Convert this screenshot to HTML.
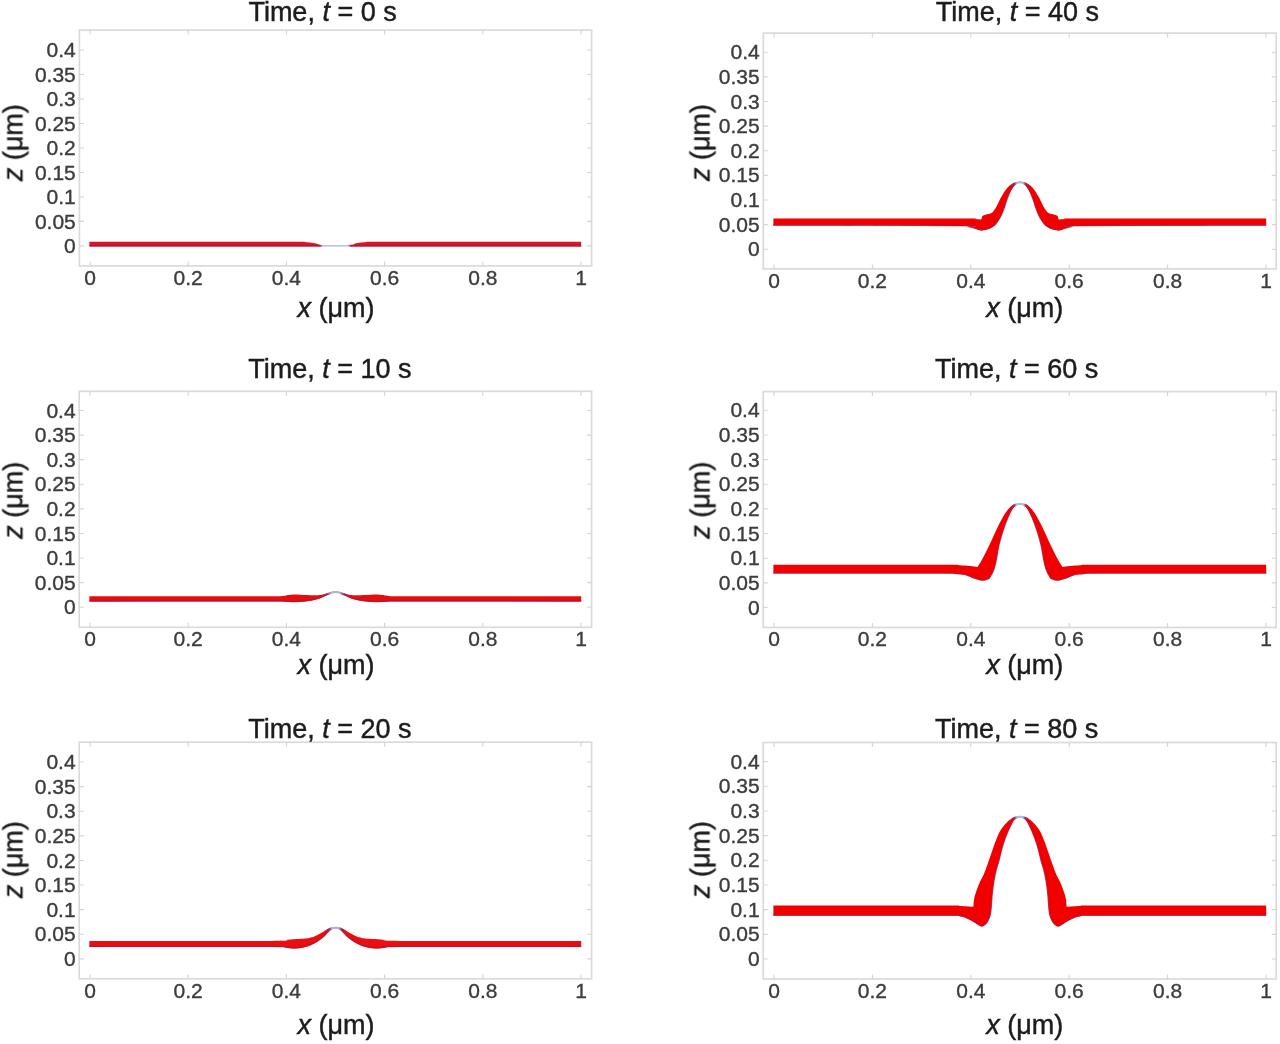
<!DOCTYPE html>
<html><head><meta charset="utf-8"><title>Film evolution</title>
<style>
html,body{margin:0;padding:0;background:#fff;}
body{width:1280px;height:1044px;overflow:hidden;}
svg{display:block;font-family:"Liberation Sans", sans-serif;}
</style></head><body>
<svg width="1280" height="1044" viewBox="0 0 1280 1044">
<defs><filter id="bl" x="-5%" y="-30%" width="110%" height="160%"><feGaussianBlur stdDeviation="0.6"/></filter><filter id="tb" x="-10%" y="-10%" width="120%" height="120%"><feGaussianBlur stdDeviation="0.35"/></filter><filter id="tb2" x="-10%" y="-10%" width="120%" height="120%"><feGaussianBlur stdDeviation="0.45"/></filter></defs>
<rect x="0" y="0" width="1280" height="1044" fill="#fff"/>
<rect x="79.4" y="30.1" width="512.2" height="235.8" fill="none" stroke="#dadada" stroke-width="1.7"/>
<path d="M90 265.9v-4.5M90 30.1v4.5M188.2 265.9v-4.5M188.2 30.1v4.5M286.4 265.9v-4.5M286.4 30.1v4.5M384.6 265.9v-4.5M384.6 30.1v4.5M482.8 265.9v-4.5M482.8 30.1v4.5M581 265.9v-4.5M581 30.1v4.5M79.4 245.9h4.5M591.6 245.9h-4.5M79.4 221.41h4.5M591.6 221.41h-4.5M79.4 196.93h4.5M591.6 196.93h-4.5M79.4 172.44h4.5M591.6 172.44h-4.5M79.4 147.95h4.5M591.6 147.95h-4.5M79.4 123.46h4.5M591.6 123.46h-4.5M79.4 98.97h4.5M591.6 98.97h-4.5M79.4 74.49h4.5M591.6 74.49h-4.5M79.4 50h4.5M591.6 50h-4.5" stroke="#d3d3d3" stroke-width="1.1" fill="none"/>
<g font-size="20" fill="#3c3c3c" stroke="#3c3c3c" stroke-width="0.35" filter="url(#tb)"><text x="90" y="284.8" text-anchor="middle" textLength="11.68" lengthAdjust="spacingAndGlyphs">0</text><text x="188.2" y="284.8" text-anchor="middle" textLength="29.19" lengthAdjust="spacingAndGlyphs">0.2</text><text x="286.4" y="284.8" text-anchor="middle" textLength="29.19" lengthAdjust="spacingAndGlyphs">0.4</text><text x="384.6" y="284.8" text-anchor="middle" textLength="29.19" lengthAdjust="spacingAndGlyphs">0.6</text><text x="482.8" y="284.8" text-anchor="middle" textLength="29.19" lengthAdjust="spacingAndGlyphs">0.8</text><text x="581" y="284.8" text-anchor="middle" textLength="11.68" lengthAdjust="spacingAndGlyphs">1</text><text x="75.8" y="253" text-anchor="end" textLength="11.68" lengthAdjust="spacingAndGlyphs">0</text><text x="75.8" y="228.51" text-anchor="end" textLength="40.87" lengthAdjust="spacingAndGlyphs">0.05</text><text x="75.8" y="204.03" text-anchor="end" textLength="29.19" lengthAdjust="spacingAndGlyphs">0.1</text><text x="75.8" y="179.54" text-anchor="end" textLength="40.87" lengthAdjust="spacingAndGlyphs">0.15</text><text x="75.8" y="155.05" text-anchor="end" textLength="29.19" lengthAdjust="spacingAndGlyphs">0.2</text><text x="75.8" y="130.56" text-anchor="end" textLength="40.87" lengthAdjust="spacingAndGlyphs">0.25</text><text x="75.8" y="106.07" text-anchor="end" textLength="29.19" lengthAdjust="spacingAndGlyphs">0.3</text><text x="75.8" y="81.59" text-anchor="end" textLength="40.87" lengthAdjust="spacingAndGlyphs">0.35</text><text x="75.8" y="57.1" text-anchor="end" textLength="29.19" lengthAdjust="spacingAndGlyphs">0.4</text></g>
<g font-size="27" fill="#1c1c1c" stroke="#1c1c1c" stroke-width="0.45" filter="url(#tb2)"><text x="248.4" y="21">Time, <tspan font-style="italic">t</tspan> = 0 s</text><text x="297.5" y="317.2"><tspan font-style="italic">x</tspan> (μm)</text><text transform="translate(22.4 181.2) rotate(-90)" x="0" y="0"><tspan font-style="italic">z</tspan> (μm)</text></g>
<rect x="79.2" y="391.3" width="512.4" height="236" fill="none" stroke="#dadada" stroke-width="1.7"/>
<path d="M90 627.3v-4.5M90 391.3v4.5M188.2 627.3v-4.5M188.2 391.3v4.5M286.4 627.3v-4.5M286.4 391.3v4.5M384.6 627.3v-4.5M384.6 391.3v4.5M482.8 627.3v-4.5M482.8 391.3v4.5M581 627.3v-4.5M581 391.3v4.5M79.2 607.2h4.5M591.6 607.2h-4.5M79.2 582.61h4.5M591.6 582.61h-4.5M79.2 558.03h4.5M591.6 558.03h-4.5M79.2 533.44h4.5M591.6 533.44h-4.5M79.2 508.85h4.5M591.6 508.85h-4.5M79.2 484.26h4.5M591.6 484.26h-4.5M79.2 459.67h4.5M591.6 459.67h-4.5M79.2 435.09h4.5M591.6 435.09h-4.5M79.2 410.5h4.5M591.6 410.5h-4.5" stroke="#d3d3d3" stroke-width="1.1" fill="none"/>
<g font-size="20" fill="#3c3c3c" stroke="#3c3c3c" stroke-width="0.35" filter="url(#tb)"><text x="90" y="646.2" text-anchor="middle" textLength="11.68" lengthAdjust="spacingAndGlyphs">0</text><text x="188.2" y="646.2" text-anchor="middle" textLength="29.19" lengthAdjust="spacingAndGlyphs">0.2</text><text x="286.4" y="646.2" text-anchor="middle" textLength="29.19" lengthAdjust="spacingAndGlyphs">0.4</text><text x="384.6" y="646.2" text-anchor="middle" textLength="29.19" lengthAdjust="spacingAndGlyphs">0.6</text><text x="482.8" y="646.2" text-anchor="middle" textLength="29.19" lengthAdjust="spacingAndGlyphs">0.8</text><text x="581" y="646.2" text-anchor="middle" textLength="11.68" lengthAdjust="spacingAndGlyphs">1</text><text x="75.6" y="614.3" text-anchor="end" textLength="11.68" lengthAdjust="spacingAndGlyphs">0</text><text x="75.6" y="589.71" text-anchor="end" textLength="40.87" lengthAdjust="spacingAndGlyphs">0.05</text><text x="75.6" y="565.13" text-anchor="end" textLength="29.19" lengthAdjust="spacingAndGlyphs">0.1</text><text x="75.6" y="540.54" text-anchor="end" textLength="40.87" lengthAdjust="spacingAndGlyphs">0.15</text><text x="75.6" y="515.95" text-anchor="end" textLength="29.19" lengthAdjust="spacingAndGlyphs">0.2</text><text x="75.6" y="491.36" text-anchor="end" textLength="40.87" lengthAdjust="spacingAndGlyphs">0.25</text><text x="75.6" y="466.77" text-anchor="end" textLength="29.19" lengthAdjust="spacingAndGlyphs">0.3</text><text x="75.6" y="442.19" text-anchor="end" textLength="40.87" lengthAdjust="spacingAndGlyphs">0.35</text><text x="75.6" y="417.6" text-anchor="end" textLength="29.19" lengthAdjust="spacingAndGlyphs">0.4</text></g>
<g font-size="27" fill="#1c1c1c" stroke="#1c1c1c" stroke-width="0.45" filter="url(#tb2)"><text x="248.2" y="378.1">Time, <tspan font-style="italic">t</tspan> = 10 s</text><text x="297.5" y="674.4"><tspan font-style="italic">x</tspan> (μm)</text><text transform="translate(22.4 538.8) rotate(-90)" x="0" y="0"><tspan font-style="italic">z</tspan> (μm)</text></g>
<rect x="79.2" y="742.2" width="512.4" height="236.6" fill="none" stroke="#dadada" stroke-width="1.7"/>
<path d="M90 978.8v-4.5M90 742.2v4.5M188.2 978.8v-4.5M188.2 742.2v4.5M286.4 978.8v-4.5M286.4 742.2v4.5M384.6 978.8v-4.5M384.6 742.2v4.5M482.8 978.8v-4.5M482.8 742.2v4.5M581 978.8v-4.5M581 742.2v4.5M79.2 958.9h4.5M591.6 958.9h-4.5M79.2 934.29h4.5M591.6 934.29h-4.5M79.2 909.67h4.5M591.6 909.67h-4.5M79.2 885.06h4.5M591.6 885.06h-4.5M79.2 860.45h4.5M591.6 860.45h-4.5M79.2 835.84h4.5M591.6 835.84h-4.5M79.2 811.22h4.5M591.6 811.22h-4.5M79.2 786.61h4.5M591.6 786.61h-4.5M79.2 762h4.5M591.6 762h-4.5" stroke="#d3d3d3" stroke-width="1.1" fill="none"/>
<g font-size="20" fill="#3c3c3c" stroke="#3c3c3c" stroke-width="0.35" filter="url(#tb)"><text x="90" y="997.7" text-anchor="middle" textLength="11.68" lengthAdjust="spacingAndGlyphs">0</text><text x="188.2" y="997.7" text-anchor="middle" textLength="29.19" lengthAdjust="spacingAndGlyphs">0.2</text><text x="286.4" y="997.7" text-anchor="middle" textLength="29.19" lengthAdjust="spacingAndGlyphs">0.4</text><text x="384.6" y="997.7" text-anchor="middle" textLength="29.19" lengthAdjust="spacingAndGlyphs">0.6</text><text x="482.8" y="997.7" text-anchor="middle" textLength="29.19" lengthAdjust="spacingAndGlyphs">0.8</text><text x="581" y="997.7" text-anchor="middle" textLength="11.68" lengthAdjust="spacingAndGlyphs">1</text><text x="75.6" y="966" text-anchor="end" textLength="11.68" lengthAdjust="spacingAndGlyphs">0</text><text x="75.6" y="941.39" text-anchor="end" textLength="40.87" lengthAdjust="spacingAndGlyphs">0.05</text><text x="75.6" y="916.77" text-anchor="end" textLength="29.19" lengthAdjust="spacingAndGlyphs">0.1</text><text x="75.6" y="892.16" text-anchor="end" textLength="40.87" lengthAdjust="spacingAndGlyphs">0.15</text><text x="75.6" y="867.55" text-anchor="end" textLength="29.19" lengthAdjust="spacingAndGlyphs">0.2</text><text x="75.6" y="842.94" text-anchor="end" textLength="40.87" lengthAdjust="spacingAndGlyphs">0.25</text><text x="75.6" y="818.32" text-anchor="end" textLength="29.19" lengthAdjust="spacingAndGlyphs">0.3</text><text x="75.6" y="793.71" text-anchor="end" textLength="40.87" lengthAdjust="spacingAndGlyphs">0.35</text><text x="75.6" y="769.1" text-anchor="end" textLength="29.19" lengthAdjust="spacingAndGlyphs">0.4</text></g>
<g font-size="27" fill="#1c1c1c" stroke="#1c1c1c" stroke-width="0.45" filter="url(#tb2)"><text x="248.2" y="737.8">Time, <tspan font-style="italic">t</tspan> = 20 s</text><text x="297.5" y="1034.3"><tspan font-style="italic">x</tspan> (μm)</text><text transform="translate(22.4 898.2) rotate(-90)" x="0" y="0"><tspan font-style="italic">z</tspan> (μm)</text></g>
<rect x="763.3" y="33.1" width="512.9" height="235.8" fill="none" stroke="#dadada" stroke-width="1.7"/>
<path d="M774 268.9v-4.5M774 33.1v4.5M872.4 268.9v-4.5M872.4 33.1v4.5M970.8 268.9v-4.5M970.8 33.1v4.5M1069.2 268.9v-4.5M1069.2 33.1v4.5M1167.6 268.9v-4.5M1167.6 33.1v4.5M1266 268.9v-4.5M1266 33.1v4.5M763.3 249.2h4.5M1276.2 249.2h-4.5M763.3 224.59h4.5M1276.2 224.59h-4.5M763.3 199.97h4.5M1276.2 199.97h-4.5M763.3 175.36h4.5M1276.2 175.36h-4.5M763.3 150.75h4.5M1276.2 150.75h-4.5M763.3 126.14h4.5M1276.2 126.14h-4.5M763.3 101.52h4.5M1276.2 101.52h-4.5M763.3 76.91h4.5M1276.2 76.91h-4.5M763.3 52.3h4.5M1276.2 52.3h-4.5" stroke="#d3d3d3" stroke-width="1.1" fill="none"/>
<g font-size="20" fill="#3c3c3c" stroke="#3c3c3c" stroke-width="0.35" filter="url(#tb)"><text x="774" y="287.8" text-anchor="middle" textLength="11.68" lengthAdjust="spacingAndGlyphs">0</text><text x="872.4" y="287.8" text-anchor="middle" textLength="29.19" lengthAdjust="spacingAndGlyphs">0.2</text><text x="970.8" y="287.8" text-anchor="middle" textLength="29.19" lengthAdjust="spacingAndGlyphs">0.4</text><text x="1069.2" y="287.8" text-anchor="middle" textLength="29.19" lengthAdjust="spacingAndGlyphs">0.6</text><text x="1167.6" y="287.8" text-anchor="middle" textLength="29.19" lengthAdjust="spacingAndGlyphs">0.8</text><text x="1266" y="287.8" text-anchor="middle" textLength="11.68" lengthAdjust="spacingAndGlyphs">1</text><text x="759.7" y="256.3" text-anchor="end" textLength="11.68" lengthAdjust="spacingAndGlyphs">0</text><text x="759.7" y="231.69" text-anchor="end" textLength="40.87" lengthAdjust="spacingAndGlyphs">0.05</text><text x="759.7" y="207.07" text-anchor="end" textLength="29.19" lengthAdjust="spacingAndGlyphs">0.1</text><text x="759.7" y="182.46" text-anchor="end" textLength="40.87" lengthAdjust="spacingAndGlyphs">0.15</text><text x="759.7" y="157.85" text-anchor="end" textLength="29.19" lengthAdjust="spacingAndGlyphs">0.2</text><text x="759.7" y="133.24" text-anchor="end" textLength="40.87" lengthAdjust="spacingAndGlyphs">0.25</text><text x="759.7" y="108.62" text-anchor="end" textLength="29.19" lengthAdjust="spacingAndGlyphs">0.3</text><text x="759.7" y="84.01" text-anchor="end" textLength="40.87" lengthAdjust="spacingAndGlyphs">0.35</text><text x="759.7" y="59.4" text-anchor="end" textLength="29.19" lengthAdjust="spacingAndGlyphs">0.4</text></g>
<g font-size="27" fill="#1c1c1c" stroke="#1c1c1c" stroke-width="0.45" filter="url(#tb2)"><text x="935.7" y="21.1">Time, <tspan font-style="italic">t</tspan> = 40 s</text><text x="986.3" y="317.1"><tspan font-style="italic">x</tspan> (μm)</text><text transform="translate(709.5 181.1) rotate(-90)" x="0" y="0"><tspan font-style="italic">z</tspan> (μm)</text></g>
<rect x="763.2" y="391.6" width="513" height="235.9" fill="none" stroke="#dadada" stroke-width="1.7"/>
<path d="M774 627.5v-4.5M774 391.6v4.5M872.4 627.5v-4.5M872.4 391.6v4.5M970.8 627.5v-4.5M970.8 391.6v4.5M1069.2 627.5v-4.5M1069.2 391.6v4.5M1167.6 627.5v-4.5M1167.6 391.6v4.5M1266 627.5v-4.5M1266 391.6v4.5M763.2 607.5h4.5M1276.2 607.5h-4.5M763.2 582.85h4.5M1276.2 582.85h-4.5M763.2 558.2h4.5M1276.2 558.2h-4.5M763.2 533.55h4.5M1276.2 533.55h-4.5M763.2 508.9h4.5M1276.2 508.9h-4.5M763.2 484.25h4.5M1276.2 484.25h-4.5M763.2 459.6h4.5M1276.2 459.6h-4.5M763.2 434.95h4.5M1276.2 434.95h-4.5M763.2 410.3h4.5M1276.2 410.3h-4.5" stroke="#d3d3d3" stroke-width="1.1" fill="none"/>
<g font-size="20" fill="#3c3c3c" stroke="#3c3c3c" stroke-width="0.35" filter="url(#tb)"><text x="774" y="646.4" text-anchor="middle" textLength="11.68" lengthAdjust="spacingAndGlyphs">0</text><text x="872.4" y="646.4" text-anchor="middle" textLength="29.19" lengthAdjust="spacingAndGlyphs">0.2</text><text x="970.8" y="646.4" text-anchor="middle" textLength="29.19" lengthAdjust="spacingAndGlyphs">0.4</text><text x="1069.2" y="646.4" text-anchor="middle" textLength="29.19" lengthAdjust="spacingAndGlyphs">0.6</text><text x="1167.6" y="646.4" text-anchor="middle" textLength="29.19" lengthAdjust="spacingAndGlyphs">0.8</text><text x="1266" y="646.4" text-anchor="middle" textLength="11.68" lengthAdjust="spacingAndGlyphs">1</text><text x="759.6" y="614.6" text-anchor="end" textLength="11.68" lengthAdjust="spacingAndGlyphs">0</text><text x="759.6" y="589.95" text-anchor="end" textLength="40.87" lengthAdjust="spacingAndGlyphs">0.05</text><text x="759.6" y="565.3" text-anchor="end" textLength="29.19" lengthAdjust="spacingAndGlyphs">0.1</text><text x="759.6" y="540.65" text-anchor="end" textLength="40.87" lengthAdjust="spacingAndGlyphs">0.15</text><text x="759.6" y="516" text-anchor="end" textLength="29.19" lengthAdjust="spacingAndGlyphs">0.2</text><text x="759.6" y="491.35" text-anchor="end" textLength="40.87" lengthAdjust="spacingAndGlyphs">0.25</text><text x="759.6" y="466.7" text-anchor="end" textLength="29.19" lengthAdjust="spacingAndGlyphs">0.3</text><text x="759.6" y="442.05" text-anchor="end" textLength="40.87" lengthAdjust="spacingAndGlyphs">0.35</text><text x="759.6" y="417.4" text-anchor="end" textLength="29.19" lengthAdjust="spacingAndGlyphs">0.4</text></g>
<g font-size="27" fill="#1c1c1c" stroke="#1c1c1c" stroke-width="0.45" filter="url(#tb2)"><text x="935" y="378.1">Time, <tspan font-style="italic">t</tspan> = 60 s</text><text x="986.3" y="674.2"><tspan font-style="italic">x</tspan> (μm)</text><text transform="translate(709.5 538.7) rotate(-90)" x="0" y="0"><tspan font-style="italic">z</tspan> (μm)</text></g>
<rect x="763.2" y="742.5" width="513" height="236.5" fill="none" stroke="#dadada" stroke-width="1.7"/>
<path d="M774 979v-4.5M774 742.5v4.5M872.4 979v-4.5M872.4 742.5v4.5M970.8 979v-4.5M970.8 742.5v4.5M1069.2 979v-4.5M1069.2 742.5v4.5M1167.6 979v-4.5M1167.6 742.5v4.5M1266 979v-4.5M1266 742.5v4.5M763.2 959h4.5M1276.2 959h-4.5M763.2 934.33h4.5M1276.2 934.33h-4.5M763.2 909.65h4.5M1276.2 909.65h-4.5M763.2 884.98h4.5M1276.2 884.98h-4.5M763.2 860.3h4.5M1276.2 860.3h-4.5M763.2 835.62h4.5M1276.2 835.62h-4.5M763.2 810.95h4.5M1276.2 810.95h-4.5M763.2 786.28h4.5M1276.2 786.28h-4.5M763.2 761.6h4.5M1276.2 761.6h-4.5" stroke="#d3d3d3" stroke-width="1.1" fill="none"/>
<g font-size="20" fill="#3c3c3c" stroke="#3c3c3c" stroke-width="0.35" filter="url(#tb)"><text x="774" y="997.9" text-anchor="middle" textLength="11.68" lengthAdjust="spacingAndGlyphs">0</text><text x="872.4" y="997.9" text-anchor="middle" textLength="29.19" lengthAdjust="spacingAndGlyphs">0.2</text><text x="970.8" y="997.9" text-anchor="middle" textLength="29.19" lengthAdjust="spacingAndGlyphs">0.4</text><text x="1069.2" y="997.9" text-anchor="middle" textLength="29.19" lengthAdjust="spacingAndGlyphs">0.6</text><text x="1167.6" y="997.9" text-anchor="middle" textLength="29.19" lengthAdjust="spacingAndGlyphs">0.8</text><text x="1266" y="997.9" text-anchor="middle" textLength="11.68" lengthAdjust="spacingAndGlyphs">1</text><text x="759.6" y="966.1" text-anchor="end" textLength="11.68" lengthAdjust="spacingAndGlyphs">0</text><text x="759.6" y="941.43" text-anchor="end" textLength="40.87" lengthAdjust="spacingAndGlyphs">0.05</text><text x="759.6" y="916.75" text-anchor="end" textLength="29.19" lengthAdjust="spacingAndGlyphs">0.1</text><text x="759.6" y="892.08" text-anchor="end" textLength="40.87" lengthAdjust="spacingAndGlyphs">0.15</text><text x="759.6" y="867.4" text-anchor="end" textLength="29.19" lengthAdjust="spacingAndGlyphs">0.2</text><text x="759.6" y="842.73" text-anchor="end" textLength="40.87" lengthAdjust="spacingAndGlyphs">0.25</text><text x="759.6" y="818.05" text-anchor="end" textLength="29.19" lengthAdjust="spacingAndGlyphs">0.3</text><text x="759.6" y="793.38" text-anchor="end" textLength="40.87" lengthAdjust="spacingAndGlyphs">0.35</text><text x="759.6" y="768.7" text-anchor="end" textLength="29.19" lengthAdjust="spacingAndGlyphs">0.4</text></g>
<g font-size="27" fill="#1c1c1c" stroke="#1c1c1c" stroke-width="0.45" filter="url(#tb2)"><text x="935" y="737.8">Time, <tspan font-style="italic">t</tspan> = 80 s</text><text x="986.3" y="1034"><tspan font-style="italic">x</tspan> (μm)</text><text transform="translate(709.5 898.1) rotate(-90)" x="0" y="0"><tspan font-style="italic">z</tspan> (μm)</text></g>
<defs><linearGradient id="fgL1" gradientUnits="userSpaceOnUse" x1="89.4" y1="0" x2="581.2" y2="0"><stop offset="0.4618" stop-color="#d61220"/><stop offset="0.4689" stop-color="#a3204a"/><stop offset="0.4750" stop-color="#bcc4e0"/><stop offset="0.5258" stop-color="#bcc4e0"/><stop offset="0.5319" stop-color="#a3204a"/><stop offset="0.5390" stop-color="#d61220"/></linearGradient><linearGradient id="egL1" gradientUnits="userSpaceOnUse" x1="89.4" y1="0" x2="581.2" y2="0"><stop offset="0.4618" stop-color="#b0163c"/><stop offset="0.4689" stop-color="#a3204a" stop-opacity="0.6"/><stop offset="0.4750" stop-color="#bcc4e0" stop-opacity="0"/><stop offset="0.5258" stop-color="#bcc4e0" stop-opacity="0"/><stop offset="0.5319" stop-color="#a3204a" stop-opacity="0.6"/><stop offset="0.5390" stop-color="#b0163c"/></linearGradient></defs>
<g filter="url(#bl)"><path d="M89.4 241.7 C123.67 241.7 259.4 241.67 295 241.7 C330.6 241.73 300.5 241.77 303 241.9 C305.5 242.03 307.83 242.22 310 242.5 C312.17 242.78 314.33 243.22 316 243.6 C317.67 243.98 318.83 244.55 320 244.8 C321.17 245.05 317.83 245.1 323 245.1 C328.17 245.1 345.67 245.05 351 244.8 C356.33 244.55 353.33 243.98 355 243.6 C356.67 243.22 358.83 242.78 361 242.5 C363.17 242.22 365.5 242.03 368 241.9 C370.5 241.77 340.47 241.73 376 241.7 C411.53 241.67 547 241.7 581.2 241.7 L581.2 246.4 C547 246.4 412.7 246.4 376 246.4 C339.3 246.4 365.17 246.4 361 246.4 C356.83 246.4 357.33 246.42 351 246.4 C344.67 246.38 328.17 246.3 323 246.3 C317.83 246.3 322.17 246.38 320 246.4 C317.83 246.42 314.17 246.4 310 246.4 C305.83 246.4 331.77 246.4 295 246.4 C258.23 246.4 123.67 246.4 89.4 246.4Z" fill="url(#fgL1)"/><path d="M89.4 245.7 C123.67 245.7 258.23 245.7 295 245.7 C331.77 245.7 305.83 245.7 310 245.7 C314.17 245.7 317.83 245.72 320 245.7 C322.17 245.68 317.83 245.6 323 245.6 C328.17 245.6 344.67 245.68 351 245.7 C357.33 245.72 356.83 245.7 361 245.7 C365.17 245.7 339.3 245.7 376 245.7 C412.7 245.7 547 245.7 581.2 245.7" fill="none" stroke="url(#egL1)" stroke-width="1.5" stroke-opacity="0.85"/><path d="M319 245.8 C320.17 245.82 323.25 245.88 326 245.9 C328.75 245.92 332.33 245.9 335.5 245.9 C338.67 245.9 342.25 245.92 345 245.9 C347.75 245.88 350.83 245.82 352 245.8" fill="none" stroke="url(#fgL1)" stroke-width="1.4" stroke-linecap="round"/></g>
<defs><linearGradient id="fgL2" gradientUnits="userSpaceOnUse" x1="89.4" y1="0" x2="581.2" y2="0"><stop offset="0.4679" stop-color="#e60a10"/><stop offset="0.4821" stop-color="#a3204a"/><stop offset="0.4923" stop-color="#a9b6da"/><stop offset="0.5085" stop-color="#a9b6da"/><stop offset="0.5187" stop-color="#a3204a"/><stop offset="0.5329" stop-color="#e60a10"/></linearGradient><linearGradient id="egL2" gradientUnits="userSpaceOnUse" x1="89.4" y1="0" x2="581.2" y2="0"><stop offset="0.4679" stop-color="#bc0e38"/><stop offset="0.4821" stop-color="#a3204a" stop-opacity="0.6"/><stop offset="0.4923" stop-color="#a9b6da" stop-opacity="0"/><stop offset="0.5085" stop-color="#a9b6da" stop-opacity="0"/><stop offset="0.5187" stop-color="#a3204a" stop-opacity="0.6"/><stop offset="0.5329" stop-color="#bc0e38"/></linearGradient></defs>
<g filter="url(#bl)"><path d="M89.4 596.3 C119.5 596.28 237.73 596.33 270 596.2 C302.27 596.07 279 595.77 283 595.5 C287 595.23 290.33 594.7 294 594.6 C297.67 594.5 301.5 594.8 305 594.9 C308.5 595 312.5 595.18 315 595.2 C317.5 595.22 318.33 595.22 320 595 C321.67 594.78 323.33 594.33 325 593.9 C326.67 593.47 328.67 592.8 330 592.4 C331.33 592 332.08 591.73 333 591.5 C333.92 591.27 335.08 591.08 335.5 591 C335.92 591.08 337.08 591.27 338 591.5 C338.92 591.73 339.67 592 341 592.4 C342.33 592.8 344.33 593.47 346 593.9 C347.67 594.33 349.33 594.78 351 595 C352.67 595.22 353.5 595.22 356 595.2 C358.5 595.18 362.5 595 366 594.9 C369.5 594.8 373.33 594.5 377 594.6 C380.67 594.7 384 595.23 388 595.5 C392 595.77 368.8 596.07 401 596.2 C433.2 596.33 551.17 596.28 581.2 596.3 L581.2 601.6 C551.17 601.58 433.2 601.47 401 601.5 C368.8 601.53 392 601.7 388 601.8 C384 601.9 380.67 602.15 377 602.1 C373.33 602.05 369 601.77 366 601.5 C363 601.23 361.17 600.92 359 600.5 C356.83 600.08 354.67 599.52 353 599 C351.33 598.48 350.33 597.97 349 597.4 C347.67 596.83 346.33 596.17 345 595.6 C343.67 595.03 342.17 594.42 341 594 C339.83 593.58 338.92 593.32 338 593.1 C337.08 592.88 335.92 592.77 335.5 592.7 C335.08 592.77 333.92 592.88 333 593.1 C332.08 593.32 331.17 593.58 330 594 C328.83 594.42 327.33 595.03 326 595.6 C324.67 596.17 323.33 596.83 322 597.4 C320.67 597.97 319.67 598.48 318 599 C316.33 599.52 314.17 600.08 312 600.5 C309.83 600.92 308 601.23 305 601.5 C302 601.77 297.67 602.05 294 602.1 C290.33 602.15 287 601.9 283 601.8 C279 601.7 302.27 601.53 270 601.5 C237.73 601.47 119.5 601.58 89.4 601.6Z" fill="url(#fgL2)"/><path d="M89.4 600.9 C119.5 600.88 237.73 600.77 270 600.8 C302.27 600.83 279 601 283 601.1 C287 601.2 290.33 601.45 294 601.4 C297.67 601.35 302 601.07 305 600.8 C308 600.53 309.83 600.22 312 599.8 C314.17 599.38 316.33 598.82 318 598.3 C319.67 597.78 320.67 597.27 322 596.7 C323.33 596.13 324.67 595.47 326 594.9 C327.33 594.33 328.83 593.72 330 593.3 C331.17 592.88 332.08 592.62 333 592.4 C333.92 592.18 335.08 592.07 335.5 592 C335.92 592.07 337.08 592.18 338 592.4 C338.92 592.62 339.83 592.88 341 593.3 C342.17 593.72 343.67 594.33 345 594.9 C346.33 595.47 347.67 596.13 349 596.7 C350.33 597.27 351.33 597.78 353 598.3 C354.67 598.82 356.83 599.38 359 599.8 C361.17 600.22 363 600.53 366 600.8 C369 601.07 373.33 601.35 377 601.4 C380.67 601.45 384 601.2 388 601.1 C392 601 368.8 600.83 401 600.8 C433.2 600.77 551.17 600.88 581.2 600.9" fill="none" stroke="url(#egL2)" stroke-width="1.5" stroke-opacity="0.85"/><path d="M318 597.3 C318.67 597.08 320.67 596.45 322 596 C323.33 595.55 324.67 595.07 326 594.6 C327.33 594.13 328.83 593.58 330 593.2 C331.17 592.82 332.08 592.52 333 592.3 C333.92 592.08 335.08 591.97 335.5 591.9 C335.92 591.97 337.08 592.08 338 592.3 C338.92 592.52 339.83 592.82 341 593.2 C342.17 593.58 343.67 594.13 345 594.6 C346.33 595.07 347.67 595.55 349 596 C350.33 596.45 352.33 597.08 353 597.3" fill="none" stroke="url(#fgL2)" stroke-width="2.0" stroke-linecap="round"/></g>
<defs><linearGradient id="fgL3" gradientUnits="userSpaceOnUse" x1="89.4" y1="0" x2="581.2" y2="0"><stop offset="0.4780" stop-color="#ec080c"/><stop offset="0.4872" stop-color="#a3204a"/><stop offset="0.4943" stop-color="#a9b6da"/><stop offset="0.5065" stop-color="#a9b6da"/><stop offset="0.5136" stop-color="#a3204a"/><stop offset="0.5228" stop-color="#ec080c"/></linearGradient><linearGradient id="egL3" gradientUnits="userSpaceOnUse" x1="89.4" y1="0" x2="581.2" y2="0"><stop offset="0.4780" stop-color="#c00c34"/><stop offset="0.4872" stop-color="#a3204a" stop-opacity="0.6"/><stop offset="0.4943" stop-color="#a9b6da" stop-opacity="0"/><stop offset="0.5065" stop-color="#a9b6da" stop-opacity="0"/><stop offset="0.5136" stop-color="#a3204a" stop-opacity="0.6"/><stop offset="0.5228" stop-color="#c00c34"/></linearGradient></defs>
<g filter="url(#bl)"><path d="M89.4 941.1 C119.5 941.07 237.4 941.08 270 940.9 C302.6 940.72 280.67 940.32 285 940 C289.33 939.68 292.5 939.27 296 939 C299.5 938.73 303.33 938.68 306 938.4 C308.67 938.12 310.25 937.78 312 937.3 C313.75 936.82 314.83 936.3 316.5 935.5 C318.17 934.7 320.18 933.53 322 932.5 C323.82 931.47 325.87 930.12 327.4 929.3 C328.93 928.48 329.85 927.98 331.2 927.6 C332.55 927.22 334.07 927 335.5 927 C336.93 927 338.45 927.22 339.8 927.6 C341.15 927.98 342.07 928.48 343.6 929.3 C345.13 930.12 347.18 931.47 349 932.5 C350.82 933.53 352.83 934.7 354.5 935.5 C356.17 936.3 357.25 936.82 359 937.3 C360.75 937.78 362.33 938.12 365 938.4 C367.67 938.68 371.5 938.73 375 939 C378.5 939.27 381.67 939.68 386 940 C390.33 940.32 368.47 940.72 401 940.9 C433.53 941.08 551.17 941.07 581.2 941.1 L581.2 947 C551.17 946.98 433.53 946.78 401 946.9 C368.47 947.02 390.33 947.43 386 947.7 C381.67 947.97 378.42 948.62 375 948.5 C371.58 948.38 368.45 947.8 365.5 947 C362.55 946.2 359.58 944.82 357.3 943.7 C355.02 942.58 353.63 941.6 351.8 940.3 C349.97 939 347.93 937.37 346.3 935.9 C344.67 934.43 343.38 932.65 342 931.5 C340.62 930.35 339.08 929.48 338 929 C336.92 928.52 336.33 928.6 335.5 928.6 C334.67 928.6 334.08 928.52 333 929 C331.92 929.48 330.38 930.35 329 931.5 C327.62 932.65 326.33 934.43 324.7 935.9 C323.07 937.37 321.03 939 319.2 940.3 C317.37 941.6 315.98 942.58 313.7 943.7 C311.42 944.82 308.45 946.2 305.5 947 C302.55 947.8 299.42 948.38 296 948.5 C292.58 948.62 289.33 947.97 285 947.7 C280.67 947.43 302.6 947.02 270 946.9 C237.4 946.78 119.5 946.98 89.4 947Z" fill="url(#fgL3)"/><path d="M89.4 946.3 C119.5 946.28 237.4 946.08 270 946.2 C302.6 946.32 280.67 946.73 285 947 C289.33 947.27 292.58 947.92 296 947.8 C299.42 947.68 302.55 947.1 305.5 946.3 C308.45 945.5 311.42 944.12 313.7 943 C315.98 941.88 317.37 940.9 319.2 939.6 C321.03 938.3 323.07 936.67 324.7 935.2 C326.33 933.73 327.62 931.95 329 930.8 C330.38 929.65 331.92 928.78 333 928.3 C334.08 927.82 334.67 927.9 335.5 927.9 C336.33 927.9 336.92 927.82 338 928.3 C339.08 928.78 340.62 929.65 342 930.8 C343.38 931.95 344.67 933.73 346.3 935.2 C347.93 936.67 349.97 938.3 351.8 939.6 C353.63 940.9 355.02 941.88 357.3 943 C359.58 944.12 362.55 945.5 365.5 946.3 C368.45 947.1 371.58 947.68 375 947.8 C378.42 947.92 381.67 947.27 386 947 C390.33 946.73 368.47 946.32 401 946.2 C433.53 946.08 551.17 946.28 581.2 946.3" fill="none" stroke="url(#egL3)" stroke-width="1.5" stroke-opacity="0.85"/><path d="M326 931.3 C326.67 930.9 328.83 929.45 330 928.9 C331.17 928.35 332.08 928.18 333 928 C333.92 927.82 334.67 927.8 335.5 927.8 C336.33 927.8 337.08 927.82 338 928 C338.92 928.18 339.83 928.35 341 928.9 C342.17 929.45 344.33 930.9 345 931.3" fill="none" stroke="url(#fgL3)" stroke-width="2.0" stroke-linecap="round"/></g>
<defs><linearGradient id="fgR1" gradientUnits="userSpaceOnUse" x1="773.4" y1="0" x2="1266.2" y2="0"><stop offset="0.4801" stop-color="#f20000"/><stop offset="0.4882" stop-color="#a3204a"/><stop offset="0.4943" stop-color="#aebbe0"/><stop offset="0.5065" stop-color="#aebbe0"/><stop offset="0.5126" stop-color="#a3204a"/><stop offset="0.5207" stop-color="#f20000"/></linearGradient><linearGradient id="egR1" gradientUnits="userSpaceOnUse" x1="773.4" y1="0" x2="1266.2" y2="0"><stop offset="0.4801" stop-color="#c0102e"/><stop offset="0.4882" stop-color="#a3204a" stop-opacity="0.6"/><stop offset="0.4943" stop-color="#aebbe0" stop-opacity="0"/><stop offset="0.5065" stop-color="#aebbe0" stop-opacity="0"/><stop offset="0.5126" stop-color="#a3204a" stop-opacity="0.6"/><stop offset="0.5207" stop-color="#c0102e"/></linearGradient></defs>
<g filter="url(#bl)"><path d="M773.4 218.4 C804.5 218.43 926.4 218.48 960 218.6 C993.6 218.72 971.45 218.93 975 219.1 C978.55 219.27 980.25 219.52 981.3 219.6 C981.47 219 982.13 216.6 982.3 216 C982.92 215.75 984.45 215.02 986 214.5 C987.55 213.98 990.18 213.68 991.6 212.9 C993.02 212.12 993.63 210.95 994.5 209.8 C995.37 208.65 996.05 207.38 996.8 206 C997.55 204.62 998.23 203.03 999 201.5 C999.77 199.97 1000.23 198.82 1001.4 196.8 C1002.57 194.78 1004.28 191.53 1006 189.4 C1007.72 187.27 1010.03 185.23 1011.7 184 C1013.37 182.77 1014.62 182.45 1016 182 C1017.38 181.55 1018.67 181.3 1020 181.3 C1021.33 181.3 1022.62 181.55 1024 182 C1025.38 182.45 1026.63 182.77 1028.3 184 C1029.97 185.23 1032.28 187.27 1034 189.4 C1035.72 191.53 1037.43 194.78 1038.6 196.8 C1039.77 198.82 1040.23 199.97 1041 201.5 C1041.77 203.03 1042.45 204.62 1043.2 206 C1043.95 207.38 1044.63 208.65 1045.5 209.8 C1046.37 210.95 1046.98 212.12 1048.4 212.9 C1049.82 213.68 1052.45 213.98 1054 214.5 C1055.55 215.02 1057.08 215.75 1057.7 216 C1057.87 216.6 1058.53 219 1058.7 219.6 C1059.75 219.52 1061.45 219.27 1065 219.1 C1068.55 218.93 1046.47 218.72 1080 218.6 C1113.53 218.48 1235.17 218.43 1266.2 218.4 L1266.2 225.6 C1235.17 225.68 1112.37 225.87 1080 226.1 C1047.63 226.33 1074.4 226.62 1072 227 C1069.6 227.38 1067.82 227.82 1065.6 228.4 C1063.38 228.98 1061.08 230.4 1058.7 230.5 C1056.32 230.6 1053.17 229.58 1051.3 229 C1049.43 228.42 1048.65 227.77 1047.5 227 C1046.35 226.23 1045.68 225.98 1044.4 224.4 C1043.12 222.82 1041.15 219.98 1039.8 217.5 C1038.45 215.02 1037.45 212.57 1036.3 209.5 C1035.15 206.43 1034.05 202.17 1032.9 199.1 C1031.75 196.03 1030.65 193.37 1029.4 191.1 C1028.15 188.83 1026.63 186.77 1025.4 185.5 C1024.17 184.23 1022.9 183.88 1022 183.5 C1021.1 183.12 1020.67 183.2 1020 183.2 C1019.33 183.2 1018.9 183.12 1018 183.5 C1017.1 183.88 1015.83 184.23 1014.6 185.5 C1013.37 186.77 1011.85 188.83 1010.6 191.1 C1009.35 193.37 1008.25 196.03 1007.1 199.1 C1005.95 202.17 1004.85 206.43 1003.7 209.5 C1002.55 212.57 1001.55 215.02 1000.2 217.5 C998.85 219.98 996.88 222.82 995.6 224.4 C994.32 225.98 993.65 226.23 992.5 227 C991.35 227.77 990.57 228.42 988.7 229 C986.83 229.58 983.68 230.6 981.3 230.5 C978.92 230.4 976.62 228.98 974.4 228.4 C972.18 227.82 970.4 227.38 968 227 C965.6 226.62 992.43 226.33 960 226.1 C927.57 225.87 804.5 225.68 773.4 225.6Z" fill="url(#fgR1)"/><path d="M773.4 224.9 C804.5 224.98 927.57 225.17 960 225.4 C992.43 225.63 965.6 225.92 968 226.3 C970.4 226.68 972.18 227.12 974.4 227.7 C976.62 228.28 978.92 229.7 981.3 229.8 C983.68 229.9 986.83 228.88 988.7 228.3 C990.57 227.72 991.35 227.07 992.5 226.3 C993.65 225.53 994.32 225.28 995.6 223.7 C996.88 222.12 998.85 219.28 1000.2 216.8 C1001.55 214.32 1002.55 211.87 1003.7 208.8 C1004.85 205.73 1005.95 201.47 1007.1 198.4 C1008.25 195.33 1009.35 192.67 1010.6 190.4 C1011.85 188.13 1013.37 186.07 1014.6 184.8 C1015.83 183.53 1017.1 183.18 1018 182.8 C1018.9 182.42 1019.33 182.5 1020 182.5 C1020.67 182.5 1021.1 182.42 1022 182.8 C1022.9 183.18 1024.17 183.53 1025.4 184.8 C1026.63 186.07 1028.15 188.13 1029.4 190.4 C1030.65 192.67 1031.75 195.33 1032.9 198.4 C1034.05 201.47 1035.15 205.73 1036.3 208.8 C1037.45 211.87 1038.45 214.32 1039.8 216.8 C1041.15 219.28 1043.12 222.12 1044.4 223.7 C1045.68 225.28 1046.35 225.53 1047.5 226.3 C1048.65 227.07 1049.43 227.72 1051.3 228.3 C1053.17 228.88 1056.32 229.9 1058.7 229.8 C1061.08 229.7 1063.38 228.28 1065.6 227.7 C1067.82 227.12 1069.6 226.68 1072 226.3 C1074.4 225.92 1047.63 225.63 1080 225.4 C1112.37 225.17 1235.17 224.98 1266.2 224.9" fill="none" stroke="url(#egR1)" stroke-width="1.5" stroke-opacity="0.85"/><path d="M1011 186.5 C1011.67 186.08 1013.5 184.7 1015 184 C1016.5 183.3 1018.33 182.3 1020 182.3 C1021.67 182.3 1023.5 183.3 1025 184 C1026.5 184.7 1028.33 186.08 1029 186.5" fill="none" stroke="url(#fgR1)" stroke-width="2.0" stroke-linecap="round"/></g>
<defs><linearGradient id="fgR2" gradientUnits="userSpaceOnUse" x1="773.4" y1="0" x2="1266.2" y2="0"><stop offset="0.4801" stop-color="#f20000"/><stop offset="0.4882" stop-color="#a3204a"/><stop offset="0.4933" stop-color="#aebbe0"/><stop offset="0.5075" stop-color="#aebbe0"/><stop offset="0.5126" stop-color="#a3204a"/><stop offset="0.5207" stop-color="#f20000"/></linearGradient><linearGradient id="egR2" gradientUnits="userSpaceOnUse" x1="773.4" y1="0" x2="1266.2" y2="0"><stop offset="0.4801" stop-color="#c0102e"/><stop offset="0.4882" stop-color="#a3204a" stop-opacity="0.6"/><stop offset="0.4933" stop-color="#aebbe0" stop-opacity="0"/><stop offset="0.5075" stop-color="#aebbe0" stop-opacity="0"/><stop offset="0.5126" stop-color="#a3204a" stop-opacity="0.6"/><stop offset="0.5207" stop-color="#c0102e"/></linearGradient></defs>
<g filter="url(#bl)"><path d="M773.4 564.7 C801.17 564.7 908.9 564.6 940 564.7 C971.1 564.8 953.73 564.93 960 565.3 C966.27 565.67 974.67 566.63 977.6 566.9 C978.42 565.54 980.43 562.61 982.5 558.75 C984.57 554.89 987.5 548.96 990 543.75 C992.5 538.54 995 532.52 997.5 527.5 C1000 522.48 1002.71 517.18 1005 513.6 C1007.29 510.02 1009.42 507.67 1011.25 506 C1013.08 504.33 1014.54 504.1 1016 503.6 C1017.46 503.1 1018.67 503 1020 503 C1021.33 503 1022.54 503.1 1024 503.6 C1025.46 504.1 1026.92 504.33 1028.75 506 C1030.58 507.67 1032.71 510.02 1035 513.6 C1037.29 517.18 1040 522.48 1042.5 527.5 C1045 532.52 1047.5 538.54 1050 543.75 C1052.5 548.96 1055.43 554.89 1057.5 558.75 C1059.57 562.61 1061.58 565.54 1062.4 566.9 C1065.33 566.63 1073.73 565.67 1080 565.3 C1086.27 564.93 1068.97 564.8 1100 564.7 C1131.03 564.6 1238.5 564.7 1266.2 564.7 L1266.2 573.5 C1238.5 573.5 1130.2 573.42 1100 573.5 C1069.8 573.58 1089.17 573.75 1085 574 C1080.83 574.25 1078.33 574.21 1075 575 C1071.67 575.79 1067.92 577.82 1065 578.75 C1062.08 579.68 1059.67 580.52 1057.5 580.6 C1055.33 580.68 1053.25 579.72 1052 579.2 C1050.75 578.68 1050.96 579.03 1050 577.5 C1049.04 575.97 1047.29 572.92 1046.25 570 C1045.21 567.08 1044.58 564 1043.75 560 C1042.92 556 1042.29 550.58 1041.25 546 C1040.21 541.42 1038.96 537.04 1037.5 532.5 C1036.04 527.96 1034.17 522.67 1032.5 518.75 C1030.83 514.83 1029.08 511.26 1027.5 509 C1025.92 506.74 1024.25 505.93 1023 505.2 C1021.75 504.47 1021 504.6 1020 504.6 C1019 504.6 1018.25 504.47 1017 505.2 C1015.75 505.93 1014.08 506.74 1012.5 509 C1010.92 511.26 1009.17 514.83 1007.5 518.75 C1005.83 522.67 1003.96 527.96 1002.5 532.5 C1001.04 537.04 999.79 541.42 998.75 546 C997.71 550.58 997.08 556 996.25 560 C995.42 564 994.79 567.08 993.75 570 C992.71 572.92 990.96 575.97 990 577.5 C989.04 579.03 989.25 578.68 988 579.2 C986.75 579.72 984.67 580.68 982.5 580.6 C980.33 580.52 977.92 579.68 975 578.75 C972.08 577.82 968.33 575.79 965 575 C961.67 574.21 959.17 574.25 955 574 C950.83 573.75 970.27 573.58 940 573.5 C909.73 573.42 801.17 573.5 773.4 573.5Z" fill="url(#fgR2)"/><path d="M773.4 572.8 C801.17 572.8 909.73 572.72 940 572.8 C970.27 572.88 950.83 573.05 955 573.3 C959.17 573.55 961.67 573.51 965 574.3 C968.33 575.09 972.08 577.12 975 578.05 C977.92 578.98 980.33 579.82 982.5 579.9 C984.67 579.98 986.75 579.02 988 578.5 C989.25 577.98 989.04 578.33 990 576.8 C990.96 575.27 992.71 572.22 993.75 569.3 C994.79 566.38 995.42 563.3 996.25 559.3 C997.08 555.3 997.71 549.88 998.75 545.3 C999.79 540.72 1001.04 536.34 1002.5 531.8 C1003.96 527.26 1005.83 521.97 1007.5 518.05 C1009.17 514.13 1010.92 510.56 1012.5 508.3 C1014.08 506.04 1015.75 505.23 1017 504.5 C1018.25 503.77 1019 503.9 1020 503.9 C1021 503.9 1021.75 503.77 1023 504.5 C1024.25 505.23 1025.92 506.04 1027.5 508.3 C1029.08 510.56 1030.83 514.13 1032.5 518.05 C1034.17 521.97 1036.04 527.26 1037.5 531.8 C1038.96 536.34 1040.21 540.72 1041.25 545.3 C1042.29 549.88 1042.92 555.3 1043.75 559.3 C1044.58 563.3 1045.21 566.38 1046.25 569.3 C1047.29 572.22 1049.04 575.27 1050 576.8 C1050.96 578.33 1050.75 577.98 1052 578.5 C1053.25 579.02 1055.33 579.98 1057.5 579.9 C1059.67 579.82 1062.08 578.98 1065 578.05 C1067.92 577.12 1071.67 575.09 1075 574.3 C1078.33 573.51 1080.83 573.55 1085 573.3 C1089.17 573.05 1069.8 572.88 1100 572.8 C1130.2 572.72 1238.5 572.8 1266.2 572.8" fill="none" stroke="url(#egR2)" stroke-width="1.5" stroke-opacity="0.85"/><path d="M1010 509.5 C1010.83 508.83 1013.33 506.42 1015 505.5 C1016.67 504.58 1018.33 504 1020 504 C1021.67 504 1023.33 504.58 1025 505.5 C1026.67 506.42 1029.17 508.83 1030 509.5" fill="none" stroke="url(#fgR2)" stroke-width="2.0" stroke-linecap="round"/></g>
<defs><linearGradient id="fgR3" gradientUnits="userSpaceOnUse" x1="773.4" y1="0" x2="1266.2" y2="0"><stop offset="0.4801" stop-color="#f20000"/><stop offset="0.4892" stop-color="#a3204a"/><stop offset="0.4943" stop-color="#aebbe0"/><stop offset="0.5065" stop-color="#aebbe0"/><stop offset="0.5116" stop-color="#a3204a"/><stop offset="0.5207" stop-color="#f20000"/></linearGradient><linearGradient id="egR3" gradientUnits="userSpaceOnUse" x1="773.4" y1="0" x2="1266.2" y2="0"><stop offset="0.4801" stop-color="#c0102e"/><stop offset="0.4892" stop-color="#a3204a" stop-opacity="0.6"/><stop offset="0.4943" stop-color="#aebbe0" stop-opacity="0"/><stop offset="0.5065" stop-color="#aebbe0" stop-opacity="0"/><stop offset="0.5116" stop-color="#a3204a" stop-opacity="0.6"/><stop offset="0.5207" stop-color="#c0102e"/></linearGradient></defs>
<g filter="url(#bl)"><path d="M773.4 905.6 C801.17 905.6 908.9 905.53 940 905.6 C971.1 905.67 954.45 905.8 960 906 C965.55 906.2 971.08 906.67 973.3 906.8 C973.48 905.23 973.75 900.42 974.4 897.4 C975.05 894.38 976.25 891.33 977.2 888.7 C978.15 886.07 979.02 883.98 980.1 881.6 C981.18 879.22 982.47 877.25 983.7 874.4 C984.93 871.55 986.05 868.52 987.5 864.5 C988.95 860.48 991.02 854.27 992.4 850.3 C993.78 846.33 994.52 843.9 995.8 840.7 C997.08 837.5 998.5 833.88 1000.1 831.1 C1001.7 828.32 1003.65 825.98 1005.4 824 C1007.15 822.02 1008.93 820.43 1010.6 819.2 C1012.27 817.97 1013.83 817.17 1015.4 816.6 C1016.97 816.03 1018.47 815.8 1020 815.8 C1021.53 815.8 1023.03 816.03 1024.6 816.6 C1026.17 817.17 1027.73 817.97 1029.4 819.2 C1031.07 820.43 1032.85 822.02 1034.6 824 C1036.35 825.98 1038.3 828.32 1039.9 831.1 C1041.5 833.88 1042.92 837.5 1044.2 840.7 C1045.48 843.9 1046.22 846.33 1047.6 850.3 C1048.98 854.27 1051.05 860.48 1052.5 864.5 C1053.95 868.52 1055.07 871.55 1056.3 874.4 C1057.53 877.25 1058.82 879.22 1059.9 881.6 C1060.98 883.98 1061.85 886.07 1062.8 888.7 C1063.75 891.33 1064.95 894.38 1065.6 897.4 C1066.25 900.42 1066.52 905.23 1066.7 906.8 C1068.92 906.67 1074.45 906.2 1080 906 C1085.55 905.8 1068.97 905.67 1100 905.6 C1131.03 905.53 1238.5 905.6 1266.2 905.6 L1266.2 915.7 C1238.5 915.7 1131.03 915.62 1100 915.7 C1068.97 915.78 1085.13 915.43 1080 916.2 C1074.87 916.97 1072.2 918.88 1069.2 920.3 C1066.2 921.72 1063.92 923.67 1062 924.7 C1060.08 925.73 1059.13 926.75 1057.7 926.5 C1056.27 926.25 1054.6 924.7 1053.4 923.2 C1052.2 921.7 1051.22 919.65 1050.5 917.5 C1049.78 915.35 1049.52 913.9 1049.1 910.3 C1048.68 906.7 1048.48 900.68 1048 895.9 C1047.52 891.12 1046.9 885.92 1046.2 881.6 C1045.5 877.28 1044.62 873.3 1043.8 870 C1042.98 866.7 1042.18 865.08 1041.3 861.8 C1040.42 858.52 1039.45 853.82 1038.5 850.3 C1037.55 846.78 1036.72 843.9 1035.6 840.7 C1034.48 837.5 1033 833.88 1031.8 831.1 C1030.6 828.32 1029.43 825.95 1028.4 824 C1027.37 822.05 1026.5 820.38 1025.6 819.4 C1024.7 818.42 1023.93 818.38 1023 818.1 C1022.07 817.82 1021 817.7 1020 817.7 C1019 817.7 1017.93 817.82 1017 818.1 C1016.07 818.38 1015.3 818.42 1014.4 819.4 C1013.5 820.38 1012.63 822.05 1011.6 824 C1010.57 825.95 1009.4 828.32 1008.2 831.1 C1007 833.88 1005.52 837.5 1004.4 840.7 C1003.28 843.9 1002.45 846.78 1001.5 850.3 C1000.55 853.82 999.58 858.52 998.7 861.8 C997.82 865.08 997.02 866.7 996.2 870 C995.38 873.3 994.5 877.28 993.8 881.6 C993.1 885.92 992.48 891.12 992 895.9 C991.52 900.68 991.32 906.7 990.9 910.3 C990.48 913.9 990.22 915.35 989.5 917.5 C988.78 919.65 987.8 921.7 986.6 923.2 C985.4 924.7 983.73 926.25 982.3 926.5 C980.87 926.75 979.92 925.73 978 924.7 C976.08 923.67 973.8 921.72 970.8 920.3 C967.8 918.88 965.13 916.97 960 916.2 C954.87 915.43 971.1 915.78 940 915.7 C908.9 915.62 801.17 915.7 773.4 915.7Z" fill="url(#fgR3)"/><path d="M773.4 915 C801.17 915 908.9 914.92 940 915 C971.1 915.08 954.87 914.73 960 915.5 C965.13 916.27 967.8 918.18 970.8 919.6 C973.8 921.02 976.08 922.97 978 924 C979.92 925.03 980.87 926.05 982.3 925.8 C983.73 925.55 985.4 924 986.6 922.5 C987.8 921 988.78 918.95 989.5 916.8 C990.22 914.65 990.48 913.2 990.9 909.6 C991.32 906 991.52 899.98 992 895.2 C992.48 890.42 993.1 885.22 993.8 880.9 C994.5 876.58 995.38 872.6 996.2 869.3 C997.02 866 997.82 864.38 998.7 861.1 C999.58 857.82 1000.55 853.12 1001.5 849.6 C1002.45 846.08 1003.28 843.2 1004.4 840 C1005.52 836.8 1007 833.18 1008.2 830.4 C1009.4 827.62 1010.57 825.25 1011.6 823.3 C1012.63 821.35 1013.5 819.68 1014.4 818.7 C1015.3 817.72 1016.07 817.68 1017 817.4 C1017.93 817.12 1019 817 1020 817 C1021 817 1022.07 817.12 1023 817.4 C1023.93 817.68 1024.7 817.72 1025.6 818.7 C1026.5 819.68 1027.37 821.35 1028.4 823.3 C1029.43 825.25 1030.6 827.62 1031.8 830.4 C1033 833.18 1034.48 836.8 1035.6 840 C1036.72 843.2 1037.55 846.08 1038.5 849.6 C1039.45 853.12 1040.42 857.82 1041.3 861.1 C1042.18 864.38 1042.98 866 1043.8 869.3 C1044.62 872.6 1045.5 876.58 1046.2 880.9 C1046.9 885.22 1047.52 890.42 1048 895.2 C1048.48 899.98 1048.68 906 1049.1 909.6 C1049.52 913.2 1049.78 914.65 1050.5 916.8 C1051.22 918.95 1052.2 921 1053.4 922.5 C1054.6 924 1056.27 925.55 1057.7 925.8 C1059.13 926.05 1060.08 925.03 1062 924 C1063.92 922.97 1066.2 921.02 1069.2 919.6 C1072.2 918.18 1074.87 916.27 1080 915.5 C1085.13 914.73 1068.97 915.08 1100 915 C1131.03 914.92 1238.5 915 1266.2 915" fill="none" stroke="url(#egR3)" stroke-width="1.5" stroke-opacity="0.85"/><path d="M1010 823.5 C1010.83 822.67 1013.33 819.63 1015 818.5 C1016.67 817.37 1018.33 816.7 1020 816.7 C1021.67 816.7 1023.33 817.37 1025 818.5 C1026.67 819.63 1029.17 822.67 1030 823.5" fill="none" stroke="url(#fgR3)" stroke-width="2.0" stroke-linecap="round"/></g>
</svg>
</body></html>
